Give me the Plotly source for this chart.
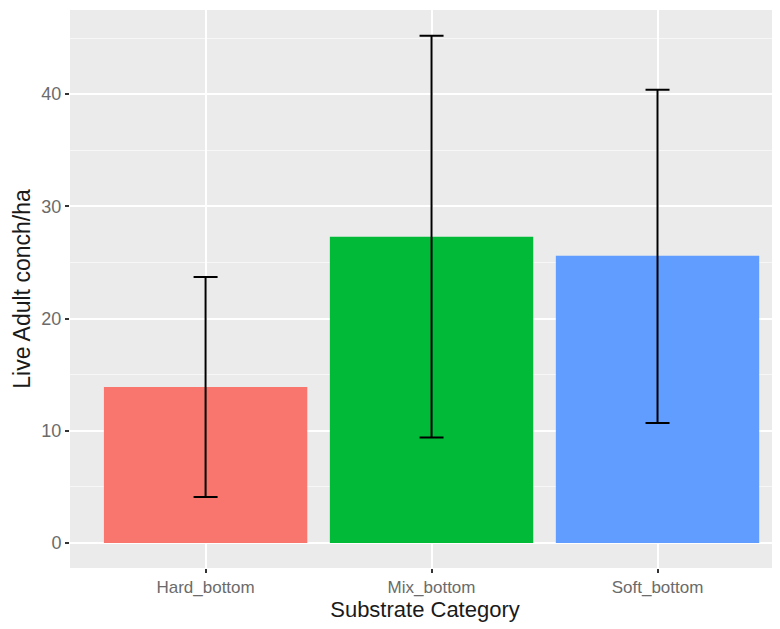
import plotly.graph_objects as go

categories = ["Hard_bottom", "Mix_bottom", "Soft_bottom"]
means = [13.9, 27.3, 25.6]
upper = [23.7, 45.2, 40.4]
lower = [4.1, 9.4, 10.7]
colors = ["#F8766D", "#00BA38", "#619CFF"]
y_ticks = [0, 10, 20, 30, 40]

err_plus = [u - m for u, m in zip(upper, means)]
err_minus = [m - l for m, l in zip(means, lower)]

fig = go.Figure(go.Bar(
    x=categories, y=means,
    marker=dict(color=colors, line=dict(width=0)),
    width=0.9,
    error_y=dict(type="data", symmetric=False, array=err_plus, arrayminus=err_minus,
                 color="black", thickness=2, width=12),
    showlegend=False,
))

font_family = "Liberation Sans, Arial, sans-serif"
fig.update_layout(
    width=772, height=621,
    margin=dict(l=62, r=0, t=2, b=61),
    plot_bgcolor="#EBEBEB", paper_bgcolor="white",
    font=dict(family=font_family),
    xaxis=dict(
        range=[-0.6, 2.542], showgrid=True, gridcolor="white", gridwidth=2,
        ticks="outside", ticklen=4, tickcolor="#333333", tickwidth=1.5,
        tickfont=dict(size=17, color="#6b6b6b"),
        title=dict(text="Substrate Category", font=dict(size=22, color="#1a1a1a"), standoff=2),
        zeroline=False,
    ),
    yaxis=dict(
        range=[-2.23, 47.5], tickvals=y_ticks, showgrid=True, gridcolor="white", gridwidth=2,
        minor=dict(dtick=5, tick0=0, showgrid=True, gridcolor="#F7F7F7", gridwidth=1),
        ticks="outside", ticklen=4, tickcolor="#333333", tickwidth=1.5,
        tickfont=dict(size=18, color="#6b6b6b"),
        title=dict(text="Live Adult conch/ha", font=dict(size=23, color="#1a1a1a"), standoff=4),
        zeroline=False,
    ),
)

fig.write_html("out.html")
